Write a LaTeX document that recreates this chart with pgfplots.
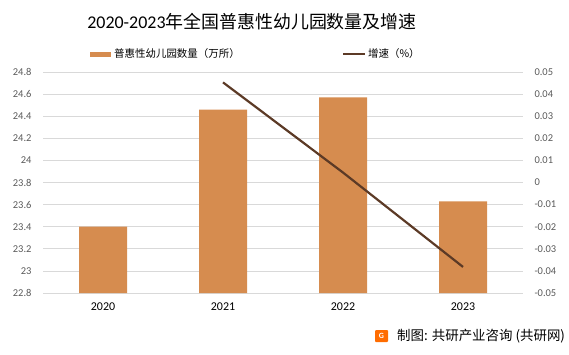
\documentclass[border=0pt]{standalone}
\usepackage{pgfplots}
\pgfplotsset{compat=1.18}
\usepackage{fontspec}
\setmainfont{Carlito}
\newfontfamily\cjk{Noto Sans CJK SC}
\definecolor{barc}{HTML}{D68C4F}
\definecolor{linec}{HTML}{5C3A26}
\definecolor{gridc}{HTML}{D9D9D9}
\definecolor{tickc}{HTML}{595959}
\begin{document}
\begin{tikzpicture}[x=1bp,y=1bp]
\path[use as bounding box] (0,0) rectangle (569,354);
\begin{axis}[
  at={(43bp,61bp)}, anchor=south west,
  scale only axis, width=480bp, height=221bp,
  xmin=-0.5, xmax=3.5, ymin=22.8, ymax=24.8,
  xtick={0,1,2,3}, xticklabels={2020,2021,2022,2023},
  ytick={22.8,23,23.2,23.4,23.6,23.8,24,24.2,24.4,24.6,24.8},
  axis line style={draw=none}, major tick length=0pt,
  ymajorgrids, grid style={gridc, line width=0.8pt},
  /pgf/number format/assume math mode=true,
  yticklabel style={font=\fontsize{10.5}{12}\selectfont, text=tickc, anchor=east, xshift=-8bp},
  xticklabel style={font=\fontsize{12}{14}\selectfont, text=black, anchor=center, yshift=-14bp},
  clip=false,
]
\addplot[ybar, bar width=48bp, fill=barc, draw=none] coordinates {(0,23.40) (1,24.46) (2,24.57) (3,23.63)};
\end{axis}
\begin{axis}[
  at={(43bp,61bp)}, anchor=south west,
  scale only axis, width=480bp, height=221bp,
  xmin=-0.5, xmax=3.5, ymin=-0.05, ymax=0.05,
  axis x line=none, axis y line*=right,
  axis line style={draw=none}, major tick length=0pt,
  ytick={-0.05,-0.04,-0.03,-0.02,-0.01,0,0.01,0.02,0.03,0.04,0.05},
  scaled y ticks=false,
  /pgf/number format/assume math mode=true,
  yticklabel={\pgfmathprintnumber[fixed,precision=2]{\tick}},
  yticklabel style={font=\fontsize{10.5}{12}\selectfont, text=tickc, anchor=west, xshift=8bp},
]
\addplot[linec, line width=2.2pt] coordinates {(1,0.0453) (2,0.0045) (3,-0.0382)};
\end{axis}
% title
\node at (252,332) {\fontsize{18}{21}\selectfont 2020-2023{\cjk 年全国普惠性幼儿园数量及增速}};
% legend
\fill[barc] (90,297.5) rectangle (111,302.5);
\node[anchor=west, inner sep=0pt] at (114,300) {\cjk\fontsize{10.5}{12}\selectfont 普惠性幼儿园数量（万所）};
\draw[linec, line width=2pt] (343,300) -- (365,300);
\node[anchor=west, inner sep=0pt] at (368,300) {\cjk\fontsize{10.5}{12}\selectfont 增速（\%）};
% source
\fill[orange!85!red, rounded corners=1pt] (375,12) rectangle (388,24);
\node[text=white, font=\bfseries\fontsize{8}{8}\selectfont, inner sep=0pt] at (381.5,18) {G};
\node[anchor=west, inner sep=0pt] at (397,18) {\cjk\fontsize{13.5}{15}\selectfont 制图: 共研产业咨询 (共研网)};
\end{tikzpicture}
\end{document}
